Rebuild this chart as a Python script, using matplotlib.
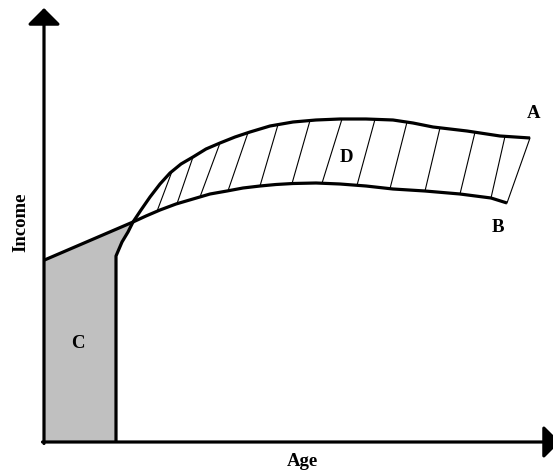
import numpy as np
import matplotlib
matplotlib.use("Agg")
import matplotlib.pyplot as plt

# curve B (income path starting at age 0)
b_age = [0.5, 89, 102, 116, 132, 149, 166, 183, 199, 216, 232, 249, 272, 296, 322, 349, 381, 416, 447, 463]
b_inc = [182, 220, 226, 232, 238, 243, 248, 251, 254, 256, 257.5, 258.5, 259, 258, 256, 253, 251, 248, 244, 239]

# curve A (zero income until schooling ends, then higher path)
a_age = [72, 72, 78, 84, 89, 97, 106, 116, 126, 137, 149, 162, 176, 191, 206, 226,
         249, 272, 296, 322, 349, 369, 389, 423, 456, 486]
a_inc = [0, 186, 200, 210, 220, 232, 245, 258, 269, 278, 285, 293, 299, 305, 310, 316,
         320, 322, 323, 323, 322, 319, 315, 311, 306, 304]

# hatch lines in area D: start age on B, end age on A
hatch_lo = [113, 133, 156, 184, 216, 248, 278, 313, 346, 381, 416, 447, 463]
hatch_hi = [128, 149, 176, 204, 234, 266, 298, 331, 363, 396, 431, 461, 486]

cross_age = 89

fig = plt.figure(figsize=(5.53, 4.73), dpi=100)
ax = fig.add_axes([0, 0, 1, 1])
ax.set_xlim(-44, 509)
ax.set_ylim(-31, 442)
ax.axis('off')

# area C (grey)
b_age_arr = np.array(b_age)
b_inc_arr = np.array(b_inc)
a_age_arr = np.array(a_age)
a_inc_arr = np.array(a_inc)
mb = b_age_arr <= cross_age
ma = a_age_arr <= cross_age
px = [0] + list(b_age_arr[mb]) + list(a_age_arr[ma][::-1])
py = [0] + list(b_inc_arr[mb]) + list(a_inc_arr[ma][::-1])
ax.fill(px, py, color='#c0c0c0', lw=0, zorder=1)

# hatch lines of D
for lo, hi in zip(hatch_lo, hatch_hi):
    ylo = np.interp(lo, b_age, b_inc)
    yhi = np.interp(hi, a_age, a_inc)
    ax.plot([lo, hi], [ylo, yhi], color='black', lw=0.8, zorder=2)

ax.plot(b_age, b_inc, color='black', lw=2.3, zorder=3, solid_capstyle='butt',
        solid_joinstyle='round')
ax.plot(a_age, a_inc, color='black', lw=2.3, zorder=3, solid_capstyle='butt',
        solid_joinstyle='round')

# axes with arrow heads
arrow = dict(arrowstyle='-|>,head_length=1.0,head_width=1.0',
             lw=2.3, color='black', shrinkA=0, shrinkB=0)
ax.annotate('', xy=(0, 434), xytext=(0, -1.5), arrowprops=arrow,
            annotation_clip=False, zorder=4)
ax.annotate('', xy=(516, 0), xytext=(-1.5, 0), arrowprops=arrow,
            annotation_clip=False, zorder=4)

font = dict(family='Liberation Serif', weight='bold', size=13.5)
ax.text(490, 329, 'A', ha='center', va='center', **font)
ax.text(454, 214, 'B', ha='center', va='center', **font)
ax.text(34, 99, 'C', ha='center', va='center', **font)
ax.text(302, 285, 'D', ha='center', va='center', **font)
ax.text(-23, 220, 'Income', rotation=90, ha='center', va='center', **font)
ax.text(258, -19, 'Age', ha='center', va='center', **font)

fig.savefig('out.png', dpi=100)
